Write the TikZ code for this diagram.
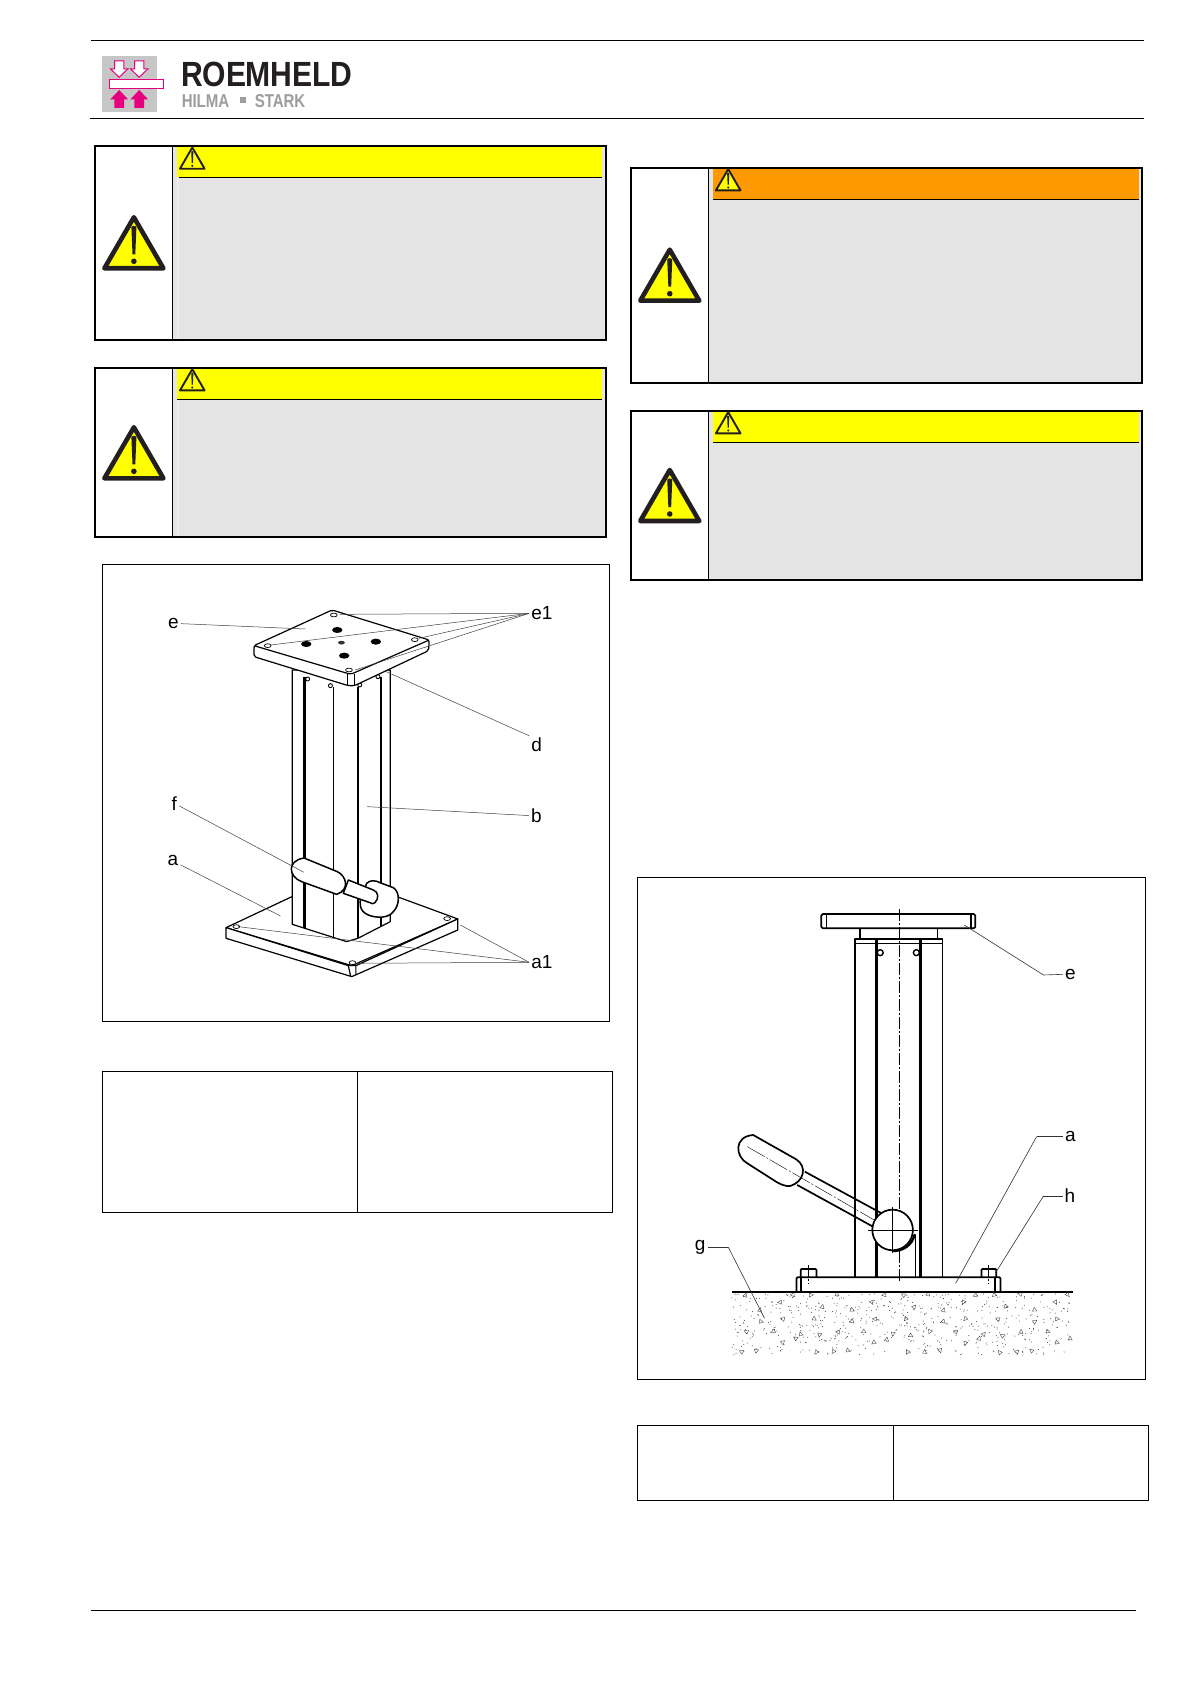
\documentclass[tikz,border=0pt]{standalone}
\usepackage{fontspec}
\setmainfont{Liberation Sans}
\newfontfamily\logofont[FakeStretch=0.86,LetterSpace=-0.5]{Liberation Sans}
\newfontfamily\subfont[FakeStretch=0.81,LetterSpace=-0.5]{Liberation Sans}
\usetikzlibrary{arrows.meta,positioning}

\definecolor{boxgray}{RGB}{229,229,229}
\definecolor{stripgray}{RGB}{236,236,236}
\definecolor{signyellow}{RGB}{255,255,0}
\definecolor{signorange}{RGB}{255,153,0}
\definecolor{signblack}{RGB}{35,31,32}
\definecolor{logopink}{RGB}{230,0,126}
\definecolor{logogray}{RGB}{198,198,198}
\definecolor{subgray}{RGB}{157,157,156}

\tikzset{
  frameline/.style={draw=black,line width=1pt},
  part/.style={draw=black,line width=1.2pt,line join=round},
  sidepart/.style={draw=black,line width=1.7pt,line join=round},
  heavy/.style={draw=black,line width=2.8pt},
  centerline/.style={draw=black,line width=0.4pt,dash pattern=on 12pt off 2pt on 2pt off 2pt},
  hatchtri/.style={draw=black!70,line width=0.4pt},
  callout/.style={font=\fontsize{19}{19}\selectfont,inner sep=2pt},
}

\newcommand{\warnsign}[4]{%
  \begin{scope}[shift={(#1,#2)},scale=#3]
    \draw[line width=#4,fill=signyellow,draw=signblack,line join=round] (0,3) -- (29.5,54) -- (-29.5,54) -- cycle;
    \fill[signblack] (-2.5,13) .. controls (-2,11) and (2,11) .. (2.5,13) -- (1.4,40) -- (-1.4,40) -- cycle;
    \fill[signblack] (0,47) circle [radius=2.8];
  \end{scope}}

\begin{document}
\begin{tikzpicture}[x=1pt,y=-1pt]
  \useasboundingbox (0,0) rectangle (1191,1685);
  \fill[white] (0,0) rectangle (1191,1685);

  % page rules
  \draw[line width=1pt] (91,40.3) -- (1144,40.3);
  \draw[line width=1pt] (90,118.3) -- (1144,118.3);
  \draw[line width=1pt] (90.5,1610.3) -- (1135.8,1610.3);

  % logo
  \fill[logogray] (102,56) rectangle (157,112);
  \foreach \xa in {119.2,139.2} {
    \draw[logopink,fill=white,line width=1pt] (\xa-4.6,61) -- (\xa+4.6,61) -- (\xa+4.6,69) -- (\xa+8.6,69) -- (\xa,77.3) -- (\xa-8.6,69) -- (\xa-4.6,69) -- cycle;
    \fill[logopink] (\xa,90) -- (\xa+9,99.5) -- (\xa+4.8,99.5) -- (\xa+4.8,108) -- (\xa-4.8,108) -- (\xa-4.8,99.5) -- (\xa-9,99.5) -- cycle;
  }
  \draw[logopink,fill=white,line width=1.3pt] (109.3,79.6) rectangle (163.7,88.4);
  \node (logoname) [anchor=base west,inner sep=0pt,text=signblack] at (181,86.7) {\logofont\bfseries\fontsize{35}{35}\selectfont ROEMHELD};
  \node (logohilma) [anchor=base west,inner sep=0pt,text=subgray] at (181.6,107.3) {\subfont\bfseries\fontsize{18.6}{18.6}\selectfont HILMA};
  \node (logostark) [anchor=base west,inner sep=0pt,text=subgray] at (254.6,107.3) {\subfont\bfseries\fontsize{18.6}{18.6}\selectfont STARK};
  \fill[subgray] (240,97.3) rectangle (246,103.3);

  % warning boxes
  \foreach \xl/\xd/\xr/\yt/\yb/\yh/\ybig/\col in {
      95.2/172.6/605.8/146/340/177/214.3/signyellow,
      95.2/172.6/605.8/367.7/537.3/399.3/424.3/signyellow,
      631/708.5/1142.4/167.7/383/199.7/246.7/signorange,
      631/708.5/1142.4/410.7/580/442.3/467/signyellow} {
    \pgfmathsetmacro{\xc}{(\xl+\xd)/2}
    \pgfmathsetmacro{\xs}{\xd+19.7}
    \pgfmathsetmacro{\ys}{\yt+0.2}
    \fill[boxgray] (\xd,\yt) rectangle (\xr,\yb);
    \fill[\col] (\xd+4.4,\yt) rectangle (\xr-3.8,\yh);
    \draw[line width=0.9pt] (\xd+4.4,\yh) -- (\xr-3.8,\yh);
    \draw[line width=0.9pt] (\xd,\yt) -- (\xd,\yb);
    \draw[line width=2pt] (\xl,\yt) rectangle (\xr,\yb);
    \warnsign{\xs}{\ys}{0.417}{1.9}
    \warnsign{\xc}{\ybig}{1}{4.6}
  }
  \fill[stripgray] (177,177.5) rectangle (179,339);
  \fill[stripgray] (177,399.8) rectangle (179,536.3);

  % tables
  \draw[frameline] (102.4,1071.5) rectangle (612.4,1212.4);
  \draw[frameline] (357,1071.5) -- (357,1212.4);
  \draw[frameline] (637.7,1425.3) rectangle (1148.4,1500.2);
  \draw[frameline] (893,1425.3) -- (893,1500.2);

  % frames of the two figures
  \draw[frameline] (102.7,564.3) rectangle (609.3,1021);
  \draw[frameline] (637.7,877.3) rectangle (1145.7,1379.3);

  % perspective view
  \begin{scope}[shift={(90,555)},x=0.3444pt,y=-0.3333pt]
    \draw[part,fill=white] (395,1118) -- (720,960) -- (1068,1092) -- (760,1232) -- cycle;
    \draw[part,fill=white] (395,1118) -- (395,1150) -- (760,1265) -- (1068,1125) -- (1068,1092) -- (772,1232) -- (750,1232) -- cycle;
    \draw[part] (750,1232) -- (757,1265) (772,1232) -- (772,1258);
    \draw[part,fill=white] (587,345) -- (587,1108) -- (745,1160) -- (778,1150) -- (872,1100) -- (872,345) -- cycle;
    \draw[part] (706,395) -- (706,1148) (778,395) -- (778,1150);
    \draw[heavy] (622,365) -- (622,1120) (845,365) -- (845,1112);
    \foreach \hx/\hy in {632/372,698/392,783/390,836/365}
      \draw[part,line width=0.9pt,fill=white] (\hx,\hy) circle [radius=2pt];
    % top plate
    \draw[part,fill=white,rounded corners=2pt] (476,272) -- (476,305) -- (750,392) -- (768,392) -- (983,287) -- (985,255) -- cycle;
    \draw[part,fill=white,rounded corners=2pt] (476,272) -- (703,165) -- (985,255) -- (757,358) -- cycle;
    \draw[part,line width=0.8pt] (748,358) -- (748,392) (768,358) -- (768,392);
    \foreach \hx/\hy in {708/180,516/272,943/254,752/345,425/1115,1037/1091,762/1223}
      \draw[part,line width=0.7pt,fill=white] (\hx,\hy) ellipse [x radius=3.4pt,y radius=1.9pt];
    \foreach \hx/\hy in {718/225,628/267,830/260,738/302}
      \fill[black] (\hx,\hy) ellipse [x radius=5.2pt,y radius=3pt];
    \fill[black!80] (730,263) ellipse [x radius=3.4pt,y radius=1.9pt];
    % callouts
    \begin{scope}[every node/.style={callout},every edge/.style={draw=black!75,line width=0.5pt}]
      \node (labE) at (242,205) {e};
      \node (labEa) at (1312,175) {e1};
      \node (labD) at (1297,570) {d};
      \node (labB) at (1296,783) {b};
      \node (labF) at (245,745) {f};
      \node (labA) at (241,918) {a};
      \node (labAa) at (1312,1222) {a1};
      \coordinate (ptE) at (625,222);
      \coordinate (ptEa) at (725,178);
      \coordinate (ptEb) at (525,270);
      \coordinate (ptEc) at (955,250);
      \coordinate (ptEd) at (770,345);
      \coordinate (ptD) at (860,350);
      \coordinate (ptB) at (805,755);
      \coordinate (ptF) at (625,950);
      \coordinate (ptA) at (553,1083);
      \coordinate (ptAa) at (1075,1110);
      \coordinate (ptAb) at (430,1115);
      \coordinate (ptAc) at (770,1225);
      \path (labE) edge (ptE);
      \path (labEa.west) edge (ptEa);
      \path (labEa.west) edge (ptEb);
      \path (labEa.west) edge (ptEc);
      \path (labEa.west) edge (ptEd);
      \path (labD.north west) edge (ptD);
      \path (labB) edge (ptB);
      \path (labA) edge (ptA);
      \path (labAa.west) edge (ptAa);
      \path (labAa.west) edge (ptAb);
      \path (labAa.west) edge (ptAc);
    \end{scope}
  \end{scope}

  % lever of the perspective view
  \begin{scope}[shift={(280,840)},x=0.3333pt,y=-0.3333pt]
    \draw[part,line width=1.5pt,fill=white] (260,130) .. controls (270,120) and (285,120) .. (300,128) -- (340,143) .. controls (360,155) and (360,195) .. (340,215) .. controls (325,235) and (290,235) .. (265,225) .. controls (240,215) and (235,190) .. (245,170) -- cycle;
    \draw[part,line width=1.5pt,fill=white] (205,120) -- (280,150) .. controls (295,155) and (298,175) .. (285,188) .. controls (280,193) and (275,191) .. (270,188) -- (190,160) -- cycle;
    \draw[part,line width=1.5pt,fill=white] (72,54) -- (172,95) .. controls (200,108) and (210,150) .. (170,163) -- (65,125) .. controls (25,110) and (20,62) .. (72,54) -- cycle;
    \begin{scope}[every node/.style={callout},every edge/.style={draw=black!75,line width=0.5pt}]
      \coordinate (ptLever) at (72,97);
      \path (labF) edge (ptLever);
    \end{scope}
  \end{scope}

  % side view
  \begin{scope}[shift={(625,870)},x=0.3444pt,y=-0.3333pt]
    % ground
    \pgfmathsetseed{11}
    \foreach \i in {1,...,560} {
      \pgfmathsetmacro{\hx}{310+rnd*990}
      \pgfmathsetmacro{\hy}{1272+rnd*183}
      \fill[black!75] (\hx,\hy) circle [radius=0.5pt];
    }
    \foreach \hx/\hy in {350/1275,488/1275,540/1275,615/1272,752/1275,808/1275,880/1272,1018/1275,1073/1275,1147/1272,1285/1272,
        392/1320,450/1297,573/1310,660/1320,717/1297,840/1310,925/1320,983/1297,1105/1310,1190/1320,1250/1297,
        395/1355,458/1347,550/1347,660/1355,725/1347,815/1347,925/1355,988/1347,1082/1347,1190/1355,1255/1347,
        352/1385,430/1385,495/1405,510/1392,565/1395,620/1385,692/1385,760/1408,778/1392,830/1397,885/1385,960/1385,1028/1405,1042/1392,1097/1397,1150/1385,1228/1385,1292/1405,
        458/1418,722/1418,988/1420,1255/1418,
        338/1445,382/1442,555/1447,605/1445,648/1442,820/1447,870/1445,915/1442,1088/1447,1137/1445,1180/1442} {
      \pgfmathsetmacro{\hr}{rnd*360}
      \draw[hatchtri,shift={(\hx,\hy)},rotate=\hr] (0,-7) -- (6,5) -- (-6,5) -- cycle;
    }
    \draw[line width=1.8pt] (310,1265) -- (1300,1265);
    % base and bolts
    \draw[sidepart,rounded corners=1pt] (498,1265) -- (498,1222) -- (1090,1222) -- (1090,1265);
    \draw[sidepart] (512,1222) -- (512,1265) (1075,1222) -- (1075,1265);
    \draw[sidepart,rounded corners=1pt] (510,1222) -- (510,1197) -- (556,1197) -- (556,1222);
    \draw[sidepart,rounded corners=1pt] (1035,1222) -- (1035,1197) -- (1078,1197) -- (1078,1222);
    \draw[centerline] (533,1185) -- (533,1240) (1055,1185) -- (1055,1240);
    % column
    \draw[sidepart] (667,1222) -- (667,207) -- (922,207) -- (922,1222);
    \draw[part] (667,220) -- (922,220);
    \draw[heavy] (730,207) -- (730,1222) (858,207) -- (858,1222);
    \foreach \hx in {741,846}
      \draw[part,line width=1.4pt,fill=white] (\hx,248) circle [radius=3pt];
    \draw[part,line width=1.2pt] (838,1095) -- (843,1095) -- (843,1222);
    % top plate
    \draw[sidepart] (682,175) -- (682,207) (907,175) -- (907,207);
    \draw[sidepart,fill=white,rounded corners=1.5pt] (570,132) rectangle (1017,175);
    \draw[sidepart] (585,132) -- (585,175) (1005,132) -- (1005,175);
    \draw[centerline] (795,118) -- (795,1240);
    % lever
    \draw[sidepart] (522,905) -- (745,1030) (500,945) -- (720,1070);
    \draw[sidepart,fill=white] (372,795) -- (497,868) .. controls (530,890) and (520,935) .. (480,948) .. controls (465,950) and (450,942) .. (440,936) -- (355,880) .. controls (320,860) and (315,800) .. (372,795) -- cycle;
    \draw[centerline,dash pattern=on 20pt off 2pt on 2pt off 2pt] (355,830) -- (740,1060);
    \draw[line width=2.4pt] (840,1095) .. controls (835,1125) and (805,1145) .. (775,1143);
    \draw[sidepart,fill=white] (777,1080) circle [radius=20.3pt];
    \draw[line width=0.5pt] (705,1080) -- (850,1080) (777,1010) -- (777,1150);
    % callouts
    \begin{scope}[every node/.style={callout},every edge/.style={draw=black!80,line width=0.6pt}]
      \node (sideE) at (1293,313) {e};
      \node (sideA) at (1293,800) {a};
      \node (sideH) at (1292,978) {h};
      \node (sideG) at (218,1132) {g};
      \coordinate (tipE) at (985,165);
      \coordinate (tipA) at (960,1240);
      \coordinate (tipH) at (1075,1210);
      \coordinate (tipG) at (405,1345);
      \coordinate (kneeE) at (1215,315);
      \coordinate (kneeA) at (1195,800);
      \coordinate (kneeH) at (1215,978);
      \coordinate (kneeG) at (300,1132);
      \path (sideE.west) edge (kneeE);
      \path (kneeE) edge (tipE);
      \path (sideA.west) edge (kneeA);
      \path (kneeA) edge (tipA);
      \path (sideH.west) edge (kneeH);
      \path (kneeH) edge (tipH);
      \path (sideG.east) edge (kneeG);
      \path (kneeG) edge (tipG);
    \end{scope}
  \end{scope}
\end{tikzpicture}
\end{document}
